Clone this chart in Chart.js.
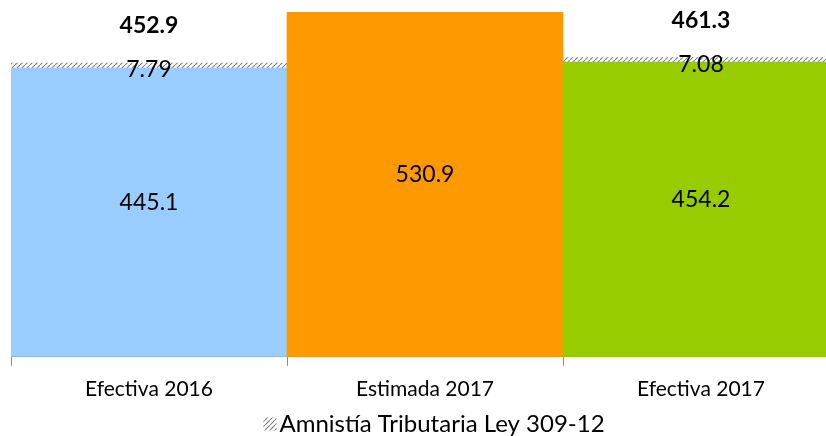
<!DOCTYPE html>
<html>
<head>
<meta charset="utf-8">
<script src="https://cdn.jsdelivr.net/npm/chart.js@4.4.1/dist/chart.umd.min.js"></script>
<style>
  html, body { margin: 0; padding: 0; background: #fff; overflow: hidden; }
  #wrap { width: 840px; height: 436px; }
</style>
</head>
<body>
<div id="wrap"><canvas id="chartCanvas"></canvas></div>
<script>
const categories = ['Efectiva 2016', 'Estimada 2017', 'Efectiva 2017'];
const recaudacion = [445.1, 530.9, 454.2];
const amnistia = [7.79, null, 7.08];
const barColors = ['#99ccff', '#ff9900', '#99cc00'];
const legendText = 'Amnistía Tributaria Ley 309-12';

function makeHatch() {
  const c = document.createElement('canvas');
  c.width = 5; c.height = 5;
  const g = c.getContext('2d');
  g.fillStyle = '#fff';
  g.fillRect(0, 0, 5, 5);
  g.strokeStyle = '#7f7f7f';
  g.lineWidth = 1.2;
  g.beginPath();
  g.moveTo(0, 5); g.lineTo(5, 0);
  g.stroke();
  return g.createPattern(c, 'repeat');
}

let hatch;

const valueLabels = {
  id: 'valueLabels',
  afterDatasetsDraw(chart) {
    const ctx = chart.ctx;
    const base = chart.getDatasetMeta(0).data;
    const hat = chart.getDatasetMeta(1).data;
    ctx.save();
    ctx.textAlign = 'center';
    ctx.textBaseline = 'middle';
    ctx.fillStyle = '#000';
    base.forEach((bar, i) => {
      ctx.font = '23px Lato';
      ctx.fillText(recaudacion[i].toFixed(1), bar.x, (bar.y + bar.base) / 2 - 10);
      if (amnistia[i] != null) {
        const h = hat[i];
        ctx.fillText(amnistia[i].toFixed(2), h.x, h.y + 7);
        ctx.font = 'bold 23px Lato';
        ctx.fillText((recaudacion[i] + amnistia[i]).toFixed(1), h.x, h.y - 37);
      }
    });

    // legend (only the hatched series)
    ctx.font = '24px Lato';
    ctx.textAlign = 'left';
    const tw = ctx.measureText(legendText).width;
    const box = 13, gap = 3;
    const x0 = 434 - (box + gap + tw) / 2;
    const yc = 424;
    ctx.fillStyle = hatch;
    ctx.fillRect(x0, yc - box / 2, box, box);
    ctx.fillStyle = '#000';
    ctx.fillText(legendText, x0 + box + gap, yc);
    ctx.restore();
  }
};

document.addEventListener('DOMContentLoaded', () => {
  hatch = makeHatch();
  const ctx = document.getElementById('chartCanvas').getContext('2d');
  new Chart(ctx, {
    type: 'bar',
    data: {
      labels: categories,
      datasets: [{
        label: 'Recaudación',
        data: recaudacion,
        backgroundColor: barColors,
        borderWidth: 0
      }, {
        label: legendText,
        data: amnistia,
        backgroundColor: hatch,
        borderWidth: 0
      }]
    },
    options: {
      responsive: true,
      maintainAspectRatio: false,
      animation: false,
      layout: { padding: { left: 11, right: 1, top: 0, bottom: 23 } },
      datasets: { bar: { barPercentage: 1, categoryPercentage: 1 } },
      scales: {
        x: {
          stacked: true,
          border: { color: '#8c8c8c', width: 1 },
          grid: { offset: true, drawOnChartArea: false, color: '#8c8c8c', tickLength: 9 },
          ticks: { color: '#000', font: { family: 'Lato', size: 21 }, padding: 11 }
        },
        y: { stacked: true, display: false, min: 0, max: 550 }
      },
      plugins: {
        tooltip: { enabled: false },
        legend: { display: false }
      }
    },
    plugins: [valueLabels]
  });
});
</script>
</body>
</html>
